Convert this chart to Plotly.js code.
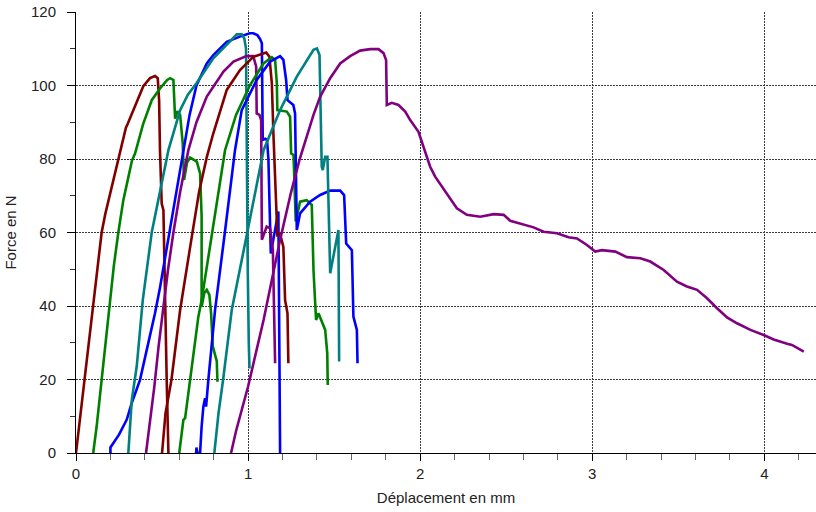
<!DOCTYPE html>
<html>
<head>
<meta charset="utf-8">
<script src="https://cdn.plot.ly/plotly-3.0.1.min.js"></script>
<style>html,body{margin:0;padding:0;background:#fff;}#chart{width:816px;height:512px;}</style>
</head>
<body>
<div id="chart"></div>
<script>
// Specimen curves: displacement (mm) and force (N)
const c1x = [0, 0.02, 0.045, 0.07, 0.09, 0.105, 0.125, 0.149, 0.17, 0.19, 0.217, 0.256, 0.29, 0.3, 0.34, 0.391, 0.43, 0.459, 0.475, 0.483, 0.488, 0.494, 0.498, 0.508, 0.517, 0.527, 0.537];
const c1y = [0, 8, 18, 28, 36, 43, 51, 60, 65, 69, 74.3, 82.4, 88.5, 89.5, 94, 99.8, 102, 102.6, 102, 96, 82.4, 68.8, 67.9, 66.1, 39.8, 20, 0];

const c2x = [0.1, 0.12, 0.149, 0.178, 0.198, 0.22, 0.246, 0.275, 0.304, 0.325, 0.343, 0.39, 0.44, 0.488, 0.53, 0.547, 0.566, 0.576, 0.589, 0.605, 0.62, 0.628, 0.645, 0.663, 0.702, 0.721, 0.73, 0.73, 0.745, 0.76, 0.775, 0.785, 0.795, 0.805, 0.818, 0.822];
const c2y = [0, 7.2, 19.9, 32.6, 41.6, 51, 60, 68.8, 75, 79.5, 81.5, 89.5, 96, 99.2, 101.5, 102, 101.5, 91, 93, 92, 84.3, 74.3, 79, 80.4, 79.3, 76.1, 64.4, 39.8, 43.5, 44.4, 43, 38, 29, 27.5, 25, 19.4];

const c3x = [0.2, 0.2, 0.25, 0.295, 0.324, 0.372, 0.42, 0.459, 0.488, 0.543, 0.575, 0.595, 0.624, 0.66, 0.70, 0.76, 0.798, 0.876, 0.963, 1.01, 1.03, 1.054, 1.07, 1.08, 1.085, 1.1, 1.11, 1.118, 1.124, 1.132, 1.154, 1.176, 1.18, 1.186];
const c3y = [0, 1.5, 5, 9.1, 13.6, 19.9, 29.9, 38, 45, 60, 68.8, 74.3, 82.4, 92, 100, 106, 108.3, 111.9, 113.5, 114.2, 114.2, 113.7, 112.6, 111.5, 85.2, 85.5, 85.2, 80, 68.8, 54.3, 60, 65.7, 40, 0];

const c4x = [0.304, 0.324, 0.353, 0.372, 0.388, 0.44, 0.478, 0.537, 0.605, 0.65, 0.70, 0.798, 0.895, 0.934, 0.963, 0.978, 0.988, 0.992, 0.998, 1.004, 1.008];
const c4y = [0, 14.4, 23.6, 32.6, 41.6, 60, 68.8, 82.4, 93.3, 97.5, 100.6, 107.4, 112, 113.9, 113.9, 112.8, 110, 80, 50, 30, 23];

const c5x = [0.407, 0.43, 0.455, 0.48, 0.505, 0.535, 0.566, 0.605, 0.653, 0.70, 0.76, 0.857, 0.915, 0.99, 1.03, 1.047, 1.05, 1.066, 1.076, 1.08, 1.08, 1.108, 1.128, 1.144, 1.153, 1.157];
const c5y = [0, 8, 18, 29, 39, 50, 60, 71, 82.4, 90, 97, 103.8, 106.5, 108, 108, 105.1, 92.4, 92, 90.6, 68.8, 58, 61.6, 61.1, 55.2, 38.9, 24.4];

const c6x = [0.5, 0.52, 0.555, 0.605, 0.67, 0.715, 0.76, 0.798, 0.876, 0.953, 1.03, 1.105, 1.124, 1.138, 1.147, 1.157, 1.167, 1.17, 1.186, 1.205, 1.215, 1.221, 1.229, 1.234];
const c6y = [0, 10.8, 20, 38.9, 58, 71, 80.5, 87, 98.8, 104.2, 107.8, 109, 107.8, 100.6, 87, 74.3, 64.4, 59.3, 59.6, 56.1, 41.6, 39.4, 38, 24.4];

const c7x = [0.6, 0.614, 0.624, 0.634, 0.663, 0.711, 0.73, 0.79, 0.83, 0.866, 0.93, 1.01, 1.089, 1.138, 1.157, 1.167, 1.17, 1.225, 1.244, 1.25, 1.264, 1.273, 1.277, 1.302, 1.34, 1.37, 1.38, 1.395, 1.409, 1.448, 1.46, 1.463];
const c7y = [0, 5.4, 9, 9.5, 19.9, 37.1, 41.6, 60, 72, 82.4, 92, 100, 106, 107.7, 106.9, 100.6, 93.3, 92.9, 91.5, 81.5, 81.1, 68.8, 63, 68.4, 68.8, 67.5, 49.8, 36.2, 38, 33.5, 27.1, 18.5];

const c8x = [0.698, 0.70, 0.705, 0.721, 0.73, 0.74, 0.75, 0.756, 0.769, 0.808, 0.865, 0.895, 0.924, 0.963, 1.05, 1.128, 1.186, 1.205, 1.221, 1.229, 1.263, 1.273, 1.283, 1.302, 1.36, 1.419, 1.477, 1.535, 1.558, 1.57, 1.603, 1.612, 1.632, 1.636];
const c8y = [0, 1.5, 0, 0, 7.2, 12.6, 14.9, 12.6, 19.9, 38.9, 60, 71.6, 82.4, 93.3, 101.5, 106.5, 108, 107, 101.5, 96, 94.7, 92.4, 60.7, 65.2, 68.4, 70.2, 71.4, 71.4, 70.2, 57, 55.2, 37.1, 33.5, 24.4];

const c9x = [0.804, 0.828, 0.855, 0.905, 0.996, 1.034, 1.09, 1.186, 1.283, 1.38, 1.4, 1.415, 1.419, 1.428, 1.434, 1.448, 1.461, 1.467, 1.477, 1.525, 1.529];
const c9y = [0, 10.8, 20, 38.9, 60.2, 68.8, 82.4, 93.3, 102.4, 109.7, 110.1, 108.3, 100, 77.9, 77, 80.6, 80.6, 68.8, 48.9, 60.7, 24.9];

const c10x = [0.901, 0.93, 1.0, 1.09, 1.186, 1.25, 1.3, 1.38, 1.419, 1.477, 1.535, 1.593, 1.651, 1.709, 1.758, 1.787, 1.802, 1.806, 1.835, 1.874, 1.913, 1.942, 1.99, 2.02, 2.058, 2.087, 2.155, 2.213, 2.271, 2.349, 2.427, 2.485, 2.523, 2.581, 2.659, 2.717, 2.795, 2.862, 2.911, 2.969, 3.017, 3.056, 3.134, 3.201, 3.279, 3.337, 3.415, 3.492, 3.55, 3.609, 3.667, 3.725, 3.783, 3.841, 3.919, 3.996, 4.054, 4.132, 4.16, 4.229];
const c10y = [0, 6, 18.1, 36.2, 58, 71, 80, 92, 97, 102, 106, 108, 109.5, 109.9, 109.9, 108.8, 106.9, 94.7, 95.3, 94.7, 92.9, 90.6, 87.4, 83.4, 77.9, 75.2, 70.7, 66.6, 64.8, 64.3, 65, 64.8, 63.2, 62.5, 61.4, 60.2, 59.8, 58.7, 58.4, 56.6, 54.8, 55.2, 54.8, 53.3, 53, 52.1, 49.8, 46.6, 45.3, 44.4, 42.1, 39.4, 36.9, 35.3, 33.5, 32.1, 30.9, 29.7, 29.4, 27.6];

const curveX = [c1x, c2x, c3x, c4x, c5x, c6x, c7x, c8x, c9x, c10x];
const curveY = [c1y, c2y, c3y, c4y, c5y, c6y, c7y, c8y, c9y, c10y];
const palette = ['#800000', '#008000', '#0000ff', '#008080', '#800080'];

const traces = curveX.map((xs, i) => ({
  type: 'scatter', mode: 'lines', x: xs, y: curveY[i],
  line: {color: palette[i % 5], width: 2.6},
  hoverinfo: 'skip', showlegend: false
}));

const font = {family: 'Liberation Sans, Arial, sans-serif', size: 15, color: '#222'};
const gridStyle = {showgrid: true, gridcolor: '#3a3a3a', gridwidth: 1, griddash: '2px,1px'};

const layout = {
  width: 816, height: 512,
  margin: {l: 76, r: 0, t: 12, b: 59, pad: 0},
  paper_bgcolor: '#fff', plot_bgcolor: '#fff',
  font: font,
  showlegend: false,
  xaxis: Object.assign({
    range: [0, 4.3], tick0: 0, dtick: 1, zeroline: false,
    showline: true, linecolor: '#000', linewidth: 1,
    ticks: 'outside', ticklen: 7, tickcolor: '#000', tickwidth: 1,
    minor: {dtick: 0.2, ticks: 'outside', ticklen: 6, tickcolor: '#666', showgrid: false},
    tickfont: font, ticklabelstandoff: 0,
    title: {text: 'Déplacement en mm', font: font, standoff: 11}
  }, gridStyle),
  yaxis: Object.assign({
    range: [0, 120], tick0: 0, dtick: 20, zeroline: false,
    showline: true, linecolor: '#000', linewidth: 1,
    ticks: 'outside', ticklen: 8, tickcolor: '#000', tickwidth: 1,
    minor: {dtick: 10, ticks: 'outside', ticklen: 5, tickcolor: '#333', showgrid: false},
    tickfont: font, ticklabelstandoff: 8,
    title: {text: 'Force en N', font: font, standoff: 10}
  }, gridStyle),
  xaxis2: {
    overlaying: 'x', anchor: 'y', side: 'bottom', range: [0, 4.3], tick0: 0, dtick: 1,
    showgrid: false, zeroline: false, showline: false, showticklabels: false,
    ticks: 'inside', ticklen: 7, tickcolor: '#000',
    minor: {dtick: 0.2, ticks: 'inside', ticklen: 6, tickcolor: '#666', showgrid: false}
  },
  yaxis2: {
    overlaying: 'y', anchor: 'x', side: 'left', range: [0, 120], tick0: 0, dtick: 20,
    showgrid: false, zeroline: false, showline: false, showticklabels: false,
    ticks: 'inside', ticklen: 6, tickcolor: '#000',
    minor: {dtick: 10, ticks: 'inside', ticklen: 6, tickcolor: '#333', showgrid: false}
  }
};

Plotly.newPlot('chart', traces, layout, {staticPlot: true, displayModeBar: false});
</script>
</body>
</html>
